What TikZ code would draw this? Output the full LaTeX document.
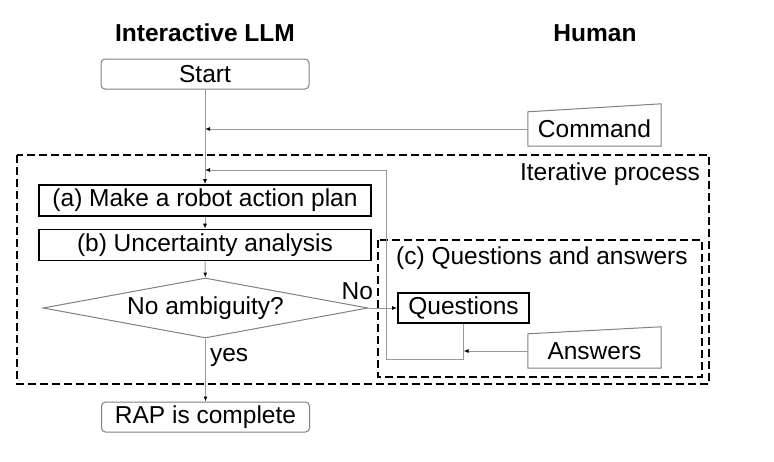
\documentclass[tikz,border=0pt]{standalone}
\usepackage{fontspec}
\setmainfont{Liberation Sans}
\usetikzlibrary{shapes.geometric,arrows.meta,calc}
\tikzset{
  every node/.style={font=\fontsize{24.5}{28}\selectfont, inner sep=0pt},
  title/.style={font=\fontsize{24.5}{28}\selectfont\bfseries},
  roundbox/.style={draw=gray, line width=1pt, rounded corners=4pt, minimum width=208pt, minimum height=30pt},
  flowbox/.style={draw=black, line width=1.6pt, minimum height=31pt},
  inputbox/.style={minimum width=133pt, minimum height=34pt},
  link/.style={draw=gray!80, line width=1pt, -{Latex[length=5pt,width=4pt,black]}},
  frame/.style={draw=black, line width=1.3pt, dash pattern=on 8pt off 4pt},
}
\begin{document}
\begin{tikzpicture}[x=1pt,y=-1pt]
		\useasboundingbox (0,0) rectangle (774,461);
		
		\node[title] (llm) at (205,33) {Interactive LLM};
		\node[title] (human) at (595,33) {Human};
		
		\node[roundbox] (start) at (205,74) {Start};
		\node[inputbox] (cmd) at (594.5,129) {Command};
		\draw[draw=gray, line width=1pt] (cmd.south west) -- (cmd.south east) -- ($(cmd.north east)+(0,-8)$) -- (cmd.north west) -- cycle;
		
		\draw[frame] (17,155) rectangle (709,384);
		\node[anchor=east] (iter) at (700,174) {Iterative process};
		
		\node[flowbox, minimum width=332pt] (plan) at (205,200.5) {(a) Make a robot action plan};
		\node[flowbox, minimum width=332pt] (unc) at (205,245) {(b) Uncertainty analysis};
		\node[diamond, draw=gray, line width=1pt, aspect=5.4, minimum width=325pt, minimum height=60pt] (amb) at (205.5,308) {No ambiguity?};
		
		\draw[frame] (378,240) rectangle (702,377);
		\node[anchor=west] (qa) at (396,258) {(c) Questions and answers};
		\node[flowbox, minimum width=131pt, minimum height=30pt] (quest) at (463.5,308) {Questions};
		\node[inputbox] (ans) at (594.5,351) {Answers};
		\draw[draw=gray, line width=1pt] (ans.south west) -- (ans.south east) -- ($(ans.north east)+(0,-7)$) -- (ans.north west) -- cycle;
		
		\node[roundbox] (rap) at (205.5,417) {RAP is complete};
		
		% connectors
		\coordinate (back) at (386,359);
		\coordinate (rejoin) at (205,170);
		\draw[link] (start) -- (plan);
		\draw[link] (cmd.west) -- (cmd.west -| start);
		\draw[link] (quest.south) |- (back) |- (rejoin);
		\draw[link] (plan) -- (unc);
		\draw[link] (unc) -- (amb);
		\draw[link] (amb.east) -- (quest.west) node[pos=0, anchor=south east, xshift=5pt, yshift=8pt] (no) {No};
		\draw[link] (ans.west) -- (ans.west -| quest);
		\draw[link] (amb.south) -- (rap) node[pos=0.3, right=4pt] (yes) {yes};
\end{tikzpicture}
\end{document}
